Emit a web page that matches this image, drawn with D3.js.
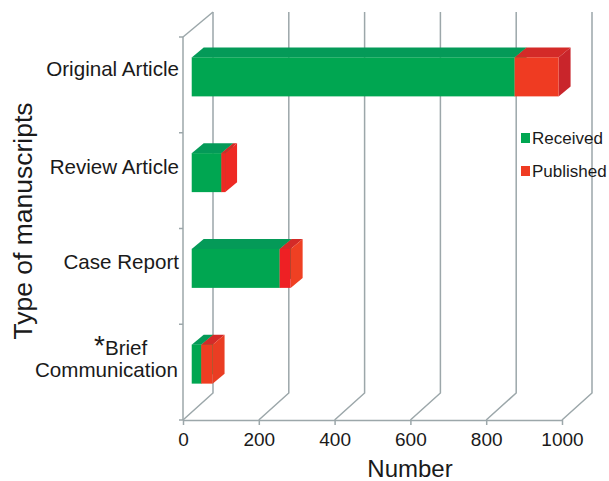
<!DOCTYPE html>
<html><head><meta charset="utf-8">
<script src="https://cdn.jsdelivr.net/npm/d3@7"></script>
<style>html,body{margin:0;background:#fff}svg{display:block;font-family:"Liberation Sans",Arial,sans-serif;fill:#1a1a1a}</style>
</head><body><div id="c"></div>
<script>
const categories = ["Original Article","Review Article","Case Report","Brief Communication"];
const received = [852, 78, 232, 25];
const published = [116, 10, 29, 30];
const barStart = 23;
const xTicks = [0,200,400,600,800,1000];
const redSide = ["#c9252b","#ee2a24","#ef4023","#ea3d23"];
const redFront = ["#ef3b22","#ee2a24","#ee2024","#ef3d22"];

const W=609,H=481, depthX=30, depthY=27, barDX=12, barDY=10;
const svg=d3.select("#c").append("svg").attr("width",W).attr("height",H);
const x=d3.scaleLinear().domain([0,1000]).range([183,562]);
const y=d3.scaleBand().domain(categories).range([37,420]).paddingInner(0).paddingOuter(0);
const grid="#9ca7aa";
const g=svg.append("g").attr("fill","none").attr("stroke",grid).attr("stroke-width",1.5);

xTicks.forEach(t=>{
  const p=d3.path();
  p.moveTo(x(t)+depthX,12); p.lineTo(x(t)+depthX,y.range()[1]-depthY); p.lineTo(x(t),y.range()[1]);
  g.append("path").attr("d",p.toString());
});
g.append("path").attr("d",`M${x(0)},37L${x(0)+depthX},12`);
g.append("path").attr("d",`M${x(0)},37V420`);

const ax=svg.append("g").attr("transform","translate(0,420)")
  .call(d3.axisBottom(x).tickValues(xTicks).tickFormat(d3.format("d")).tickSize(5).tickSizeOuter(0).tickPadding(4));
ax.select(".domain").attr("stroke",grid).attr("stroke-width",1.5);
ax.selectAll("line").attr("stroke",grid).attr("stroke-width",1.5);
ax.selectAll("text").attr("font-size",19).attr("font-family","Liberation Sans").attr("fill","#1a1a1a").attr("dy","0.9em");
const ayTicks=[37,132.75,228.5,324.25,420];
ayTicks.forEach(v=>g.append("line").attr("x1",179).attr("x2",183).attr("y1",v).attr("y2",v));

function box(x0,x1,yTop,h,front,top,side){
  const b=svg.append("g");
  b.append("polygon").attr("fill",top).attr("points",[[x0,yTop],[x0+barDX,yTop-barDY],[x1+barDX,yTop-barDY],[x1,yTop]].join(" "));
  b.append("polygon").attr("fill",side).attr("points",[[x1,yTop],[x1+barDX,yTop-barDY],[x1+barDX,yTop+h-barDY],[x1,yTop+h]].join(" "));
  b.append("rect").attr("x",x0).attr("y",yTop).attr("width",x1-x0).attr("height",h).attr("fill",front);
}
const barH=39;
categories.forEach((c,i)=>{
  const yTop=y(c)+y.bandwidth()/2-8-barH/2;
  const s=x(barStart), m=x(barStart+received[i]), e=x(barStart+received[i]+published[i]);
  box(s,m,yTop,barH,"#00a651","#049a58","#00a651");
  box(m,e,yTop,barH,redFront[i],"#d42a28",redSide[i]);
});

const labelY=[69,167,262];
categories.slice(0,3).forEach((c,i)=>svg.append("text").attr("x",179).attr("y",labelY[i]+7).attr("text-anchor","end").attr("font-size",20.6).text(c));
const bc=svg.append("text").attr("font-size",20.6);
bc.append("tspan").attr("x",94).attr("y",355).attr("font-size",28).text("*");
bc.append("tspan").attr("y",355).text("Brief");
svg.append("text").attr("x",178).attr("y",377).attr("text-anchor","end").attr("font-size",20.6).text("Communication");

svg.append("text").attr("x",410).attr("y",477).attr("text-anchor","middle").attr("font-size",24).text("Number");
svg.append("text").attr("transform","translate(32,221) rotate(-90)").attr("text-anchor","middle").attr("font-size",26.5).text("Type of manuscripts");

const names=["Received","Published"], swatch=["#00a651","#ef3b22"], ly=[138,171];
names.forEach((n,i)=>{
  svg.append("rect").attr("x",521).attr("y",ly[i]-5).attr("width",9).attr("height",10).attr("fill",swatch[i]);
  svg.append("text").attr("x",532).attr("y",ly[i]+6).attr("font-size",17).text(n);
});
</script></body></html>
